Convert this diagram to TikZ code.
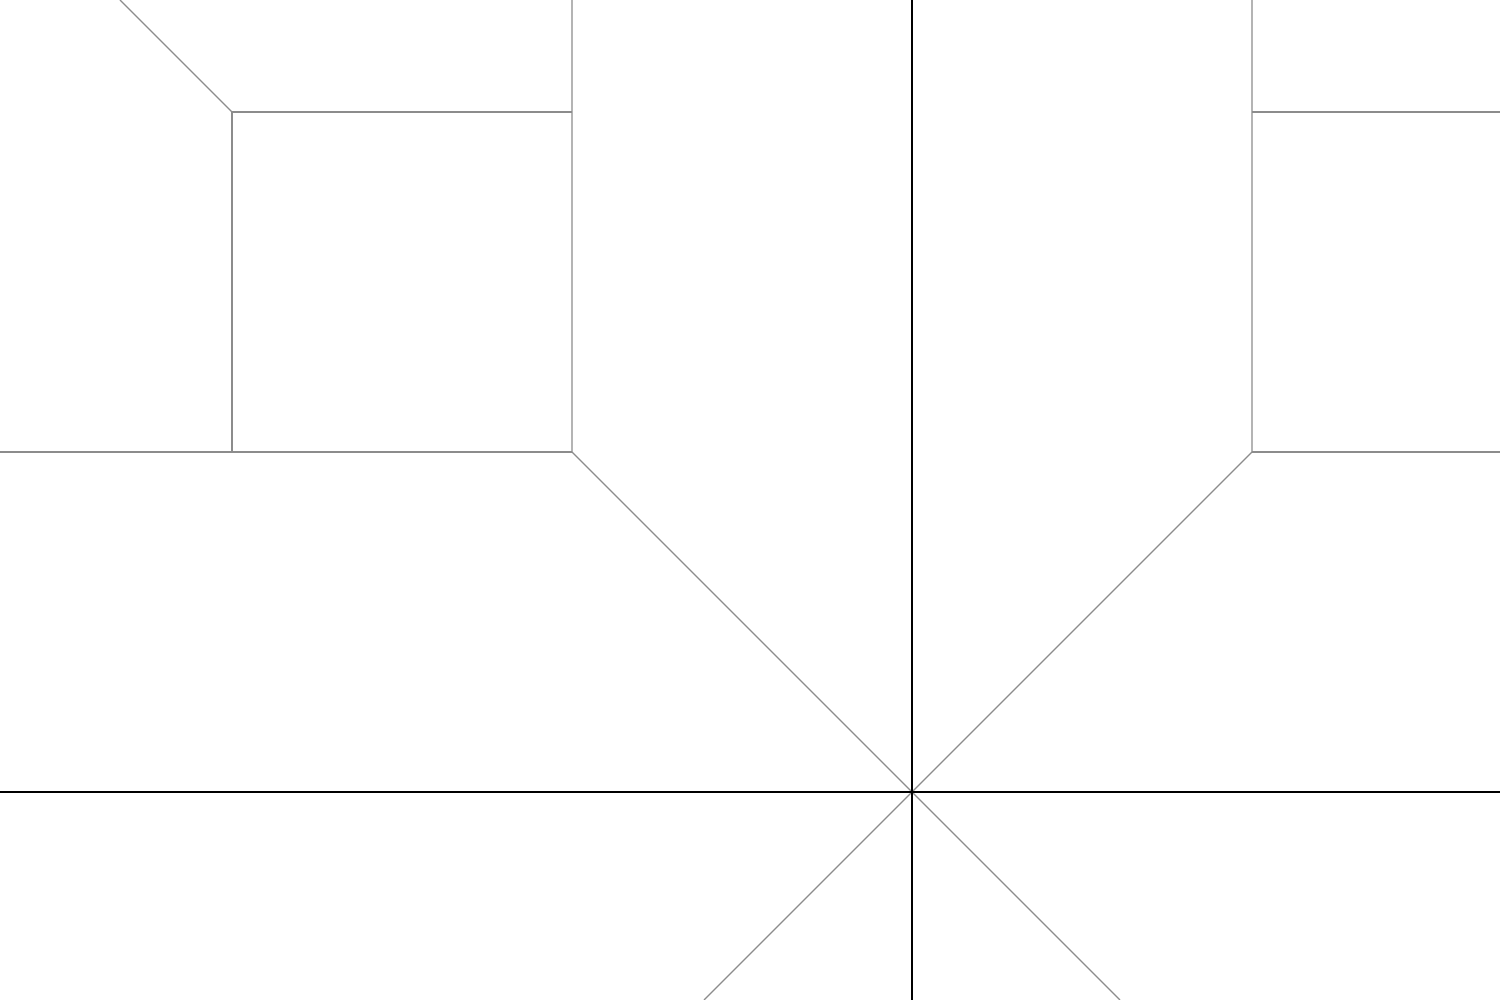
\documentclass[tikz,border=0pt]{standalone}
\begin{document}
\begin{tikzpicture}[x=1cm,y=1cm,
  axis/.style={black,line width=0.6pt},
  guide/.style={gray!90,line width=0.35pt}]
\useasboundingbox (0,0) rectangle (15,10);
\fill[white] (0,0) rectangle (15,10);
\coordinate (O) at (9.12,2.08);
\coordinate (A) at (5.72,5.48);
\coordinate (B) at (2.32,8.88);
\coordinate (C) at (12.52,5.48);
\begin{scope}
\clip (0,0) rectangle (15,10);
% guides
\draw[guide] (O) -- (A) -- (5.72,10);
\draw[guide] (0,5.48) -- (A);
\draw[guide] (B) -- (2.32,5.48);
\draw[guide] (B) -- (5.72,8.88);
\draw[guide] (B) -- (1.20,10);
\draw[guide] (O) -- (C) -- (12.52,10);
\draw[guide] (C) -- (15,5.48);
\draw[guide] (12.52,8.88) -- (15,8.88);
\draw[guide] (O) -- (7.04,0);
\draw[guide] (O) -- (11.20,0);
% axes
\draw[axis] (0,2.08) -- (15,2.08);
\draw[axis] (9.12,0) -- (9.12,10);
\end{scope}
\end{tikzpicture}
\end{document}
